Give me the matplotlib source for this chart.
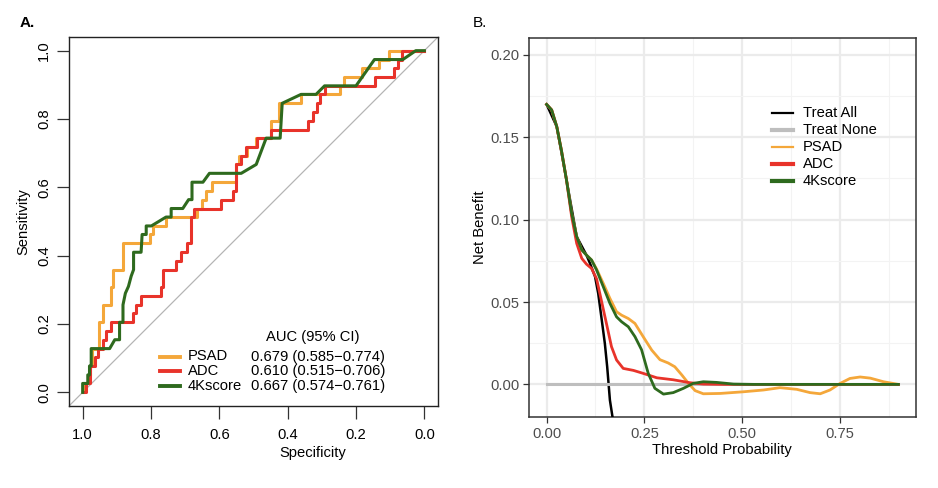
import matplotlib
matplotlib.use("Agg")
import matplotlib.pyplot as plt
from matplotlib.lines import Line2D
import numpy as np

plt.rcParams['font.family'] = ['Liberation Sans', 'DejaVu Sans']

# ---------------- Panel A: ROC data ----------------
psad_spec = [1.000, 1.000, 0.985, 0.979, 0.973, 0.952, 0.941, 0.916, 0.911, 0.882, 0.804, 0.794,
             0.756, 0.664, 0.652, 0.638, 0.621, 0.552, 0.542, 0.518, 0.492, 0.449, 0.424, 0.360,
             0.246, 0.236, 0.182, 0.134, 0.102, 0.000]
psad_sens = [0.000, 0.026, 0.051, 0.077, 0.128, 0.205, 0.256, 0.308, 0.359, 0.436, 0.462, 0.487,
             0.513, 0.538, 0.564, 0.590, 0.615, 0.667, 0.692, 0.718, 0.744, 0.795, 0.846, 0.872,
             0.897, 0.923, 0.949, 0.974, 1.000, 1.000]

adc_spec = [1.000, 0.990, 0.980, 0.965, 0.955, 0.940, 0.931, 0.916, 0.853, 0.843, 0.829, 0.772,
            0.765, 0.726, 0.711, 0.696, 0.682, 0.673, 0.595, 0.560, 0.551, 0.536, 0.522, 0.490,
            0.449, 0.341, 0.325, 0.315, 0.305, 0.292, 0.143, 0.088, 0.078, 0.064, 0.000]
adc_sens = [0.000, 0.026, 0.077, 0.103, 0.128, 0.154, 0.179, 0.205, 0.231, 0.256, 0.282, 0.308,
            0.359, 0.385, 0.410, 0.436, 0.513, 0.538, 0.564, 0.590, 0.667, 0.692, 0.718, 0.744,
            0.769, 0.795, 0.821, 0.846, 0.872, 0.897, 0.923, 0.949, 0.974, 1.000, 1.000]

k4_spec = [1.000, 1.000, 0.985, 0.985, 0.980, 0.980, 0.975, 0.975, 0.921, 0.906, 0.892, 0.892,
           0.882, 0.882, 0.875, 0.866, 0.858, 0.851, 0.851, 0.829, 0.826, 0.814, 0.814, 0.799,
           0.756, 0.741, 0.741, 0.707, 0.690, 0.680, 0.680, 0.648, 0.629, 0.536, 0.492, 0.463,
           0.422, 0.416, 0.361, 0.317, 0.292, 0.200, 0.146, 0.063, 0.025, 0.000]
k4_sens = [0.000, 0.026, 0.026, 0.051, 0.051, 0.077, 0.077, 0.128, 0.128, 0.154, 0.154, 0.205,
           0.205, 0.256, 0.290, 0.310, 0.340, 0.359, 0.410, 0.410, 0.462, 0.462, 0.487, 0.487,
           0.513, 0.513, 0.538, 0.538, 0.564, 0.564, 0.615, 0.615, 0.641, 0.641, 0.667, 0.744,
           0.744, 0.846, 0.872, 0.872, 0.897, 0.897, 0.974, 0.974, 1.000, 1.000]

roc_names = ["PSAD", "ADC", "4Kscore"]
roc_auc = ["0.679 (0.585\u22120.774)", "0.610 (0.515\u22120.706)", "0.667 (0.574\u22120.761)"]
roc_ticks = [1.0, 0.8, 0.6, 0.4, 0.2, 0.0]
roc_ticklabels = ["1.0", "0.8", "0.6", "0.4", "0.2", "0.0"]

# ---------------- Panel B: decision curve data ----------------
all_t = [0.000, 0.026, 0.051, 0.077, 0.102, 0.111, 0.124, 0.132, 0.141, 0.149, 0.155, 0.162, 0.172]
all_nb = [0.170, 0.1565, 0.124, 0.0897, 0.0785, 0.0735, 0.0654, 0.0553, 0.0393, 0.0249, 0.0107, -0.0096, -0.025]

none_t = [0.0, 0.9]
none_nb = [0.0, 0.0]

psad_t = [0.000, 0.013, 0.026, 0.038, 0.051, 0.064, 0.077, 0.090, 0.102, 0.115, 0.128, 0.145, 0.162,
          0.179, 0.192, 0.209, 0.226, 0.247, 0.269, 0.290, 0.311, 0.328, 0.346, 0.363, 0.380, 0.401,
          0.444, 0.503, 0.555, 0.597, 0.640, 0.674, 0.700, 0.725, 0.751, 0.776, 0.802, 0.828, 0.862, 0.900]
psad_nb = [0.170, 0.1666, 0.1565, 0.142, 0.124, 0.104, 0.0897, 0.0816, 0.0785, 0.0755, 0.0700, 0.0613, 0.0522,
           0.0441, 0.042, 0.040, 0.037, 0.029, 0.0208, 0.0150, 0.0130, 0.0107, 0.0057, 0.0006, -0.0038, -0.0057,
           -0.0055, -0.0045, -0.0034, -0.0020, -0.0030, -0.0050, -0.0057, -0.0034, 0.0006, 0.0036, 0.0045, 0.0038, 0.0016, 0.0]

adc_t = [0.000, 0.013, 0.026, 0.038, 0.051, 0.064, 0.077, 0.090, 0.102, 0.115, 0.128, 0.141, 0.154,
         0.166, 0.179, 0.196, 0.222, 0.247, 0.282, 0.324, 0.367, 0.401, 0.452, 0.900]
adc_nb = [0.170, 0.1666, 0.1565, 0.142, 0.124, 0.102, 0.0856, 0.0765, 0.0730, 0.0704, 0.0640, 0.0500, 0.0360,
          0.0229, 0.0148, 0.0097, 0.0085, 0.0067, 0.0040, 0.0028, 0.0010, 0.0002, 0.0, 0.0]

k4_t = [0.000, 0.013, 0.026, 0.038, 0.051, 0.064, 0.077, 0.090, 0.102, 0.115, 0.128, 0.145, 0.162,
        0.179, 0.192, 0.209, 0.226, 0.243, 0.260, 0.277, 0.299, 0.324, 0.350, 0.375, 0.401, 0.435,
        0.478, 0.529, 0.900]
k4_nb = [0.170, 0.1666, 0.1565, 0.142, 0.124, 0.104, 0.0897, 0.0816, 0.0785, 0.0755, 0.0694, 0.0593, 0.0492,
         0.0410, 0.0380, 0.0350, 0.0290, 0.0210, 0.0067, -0.0024, -0.0059, -0.0050, -0.0024, 0.0006, 0.0016,
         0.0012, 0.0002, 0.0, 0.0]

dca_names = ["Treat All", "Treat None", "PSAD", "ADC", "4Kscore"]
dca_xticks = [0.00, 0.25, 0.50, 0.75]
dca_yticks = [0.00, 0.05, 0.10, 0.15, 0.20]

# ---------------- styling ----------------
C_PSAD = "#F4A73A"
C_ADC = "#E8332A"
C_K4 = "#2E6A1E"
C_ALL = "#000000"
C_NONE = "#BEBEBE"

W, H = 938, 488
fig = plt.figure(figsize=(W / 100, H / 100), dpi=100)


def fx(x):
    return x / W


def fy(y):
    return 1 - y / H


FS = 10.6

# ---------------- Panel A ----------------
ax1 = fig.add_axes([fx(69), fy(406), 369 / W, 369 / H])
ax1.set_xlim(1.04, -0.04)
ax1.set_ylim(-0.04, 1.04)
ax1.axline((1, 0), (0, 1), color="#B5B5B5", lw=0.9, zorder=1)
ax1.step(psad_spec, psad_sens, where="post", color=C_PSAD, lw=2.2, zorder=3)
ax1.step(adc_spec, adc_sens, where="post", color=C_ADC, lw=2.2, zorder=4)
ax1.plot(k4_spec, k4_sens, color=C_K4, lw=2.2, zorder=5)
for s in ax1.spines.values():
    s.set_linewidth(1.0)
    s.set_color("#222222")
ax1.set_xticks(roc_ticks)
ax1.set_xticklabels(roc_ticklabels, fontsize=FS)
ax1.set_yticks(roc_ticks)
ax1.set_yticklabels(roc_ticklabels, fontsize=FS, rotation=90, va="center")
ax1.tick_params(axis="x", direction="out", length=9, width=0.9, pad=6.5, color="#333333")
ax1.tick_params(axis="y", direction="out", length=9, width=0.9, pad=4, color="#333333")
fig.text(fx(313), fy(453), "Specificity", fontsize=FS, ha="center", va="center")
fig.text(fx(23), fy(222), "Sensitivity", fontsize=FS, ha="center", va="center", rotation=90)
fig.text(fx(20), fy(23), "A.", fontsize=11, fontweight="bold", ha="left", va="center")

# legend of panel A
fig.text(fx(313), fy(337), "AUC (95% CI)", fontsize=FS, ha="center", va="center")
roc_cols = [C_PSAD, C_ADC, C_K4]
rows_a = [356.5, 371.3, 386]
for name, auc, col, yy in zip(roc_names, roc_auc, roc_cols, rows_a):
    fig.add_artist(Line2D([fx(160), fx(180)], [fy(yy), fy(yy)], color=col, lw=2.8,
                          transform=fig.transFigure))
    fig.text(fx(188), fy(yy), name, fontsize=FS, ha="left", va="center")
    fig.text(fx(251), fy(yy), auc, fontsize=FS, ha="left", va="center")

# ---------------- Panel B ----------------
ax2 = fig.add_axes([fx(529), fy(417), 387 / W, 379 / H])
ax2.set_xlim(-0.045, 0.945)
ax2.set_ylim(-0.0198, 0.2103)
ax2.set_xticks(dca_xticks)
ax2.set_xticklabels([f"{v:.2f}" for v in dca_xticks], fontsize=FS, color="#4D4D4D")
ax2.set_yticks(dca_yticks)
ax2.set_yticklabels([f"{v:.2f}" for v in dca_yticks], fontsize=FS, color="#4D4D4D")
ax2.set_xticks([0.125, 0.375, 0.625, 0.875], minor=True)
ax2.set_yticks([0.025, 0.075, 0.125, 0.175], minor=True)
ax2.grid(which="major", color="#EBEBEB", lw=1.6)
ax2.grid(which="minor", color="#F3F3F3", lw=0.8)
ax2.set_axisbelow(True)
ax2.tick_params(which="major", direction="out", length=4.5, width=0.9, pad=2.5, color="#333333")
ax2.tick_params(which="minor", length=0)
for s in ax2.spines.values():
    s.set_linewidth(1.1)
    s.set_color("#333333")

ax2.plot(all_t, all_nb, color=C_ALL, lw=1.8, zorder=3, solid_capstyle="butt")
ax2.plot(none_t, none_nb, color=C_NONE, lw=2.2, zorder=3)
ax2.plot(psad_t, psad_nb, color=C_PSAD, lw=2.0, zorder=4)
ax2.plot(adc_t, adc_nb, color=C_ADC, lw=2.0, zorder=5)
ax2.plot(k4_t, k4_nb, color=C_K4, lw=2.0, zorder=6)

fig.text(fx(722), fy(450), "Threshold Probability", fontsize=FS, ha="center", va="center")
fig.text(fx(480), fy(227), "Net Benefit", fontsize=FS, ha="center", va="center", rotation=90)
fig.text(fx(473), fy(23), "B.", fontsize=11, ha="left", va="center")

dca_cols = [C_ALL, C_NONE, C_PSAD, C_ADC, C_K4]
dca_lw = [1.6, 3.0, 1.6, 3.0, 3.0]
rows_b = [113, 130, 147, 164, 181]
for name, col, lw, yy in zip(dca_names, dca_cols, dca_lw, rows_b):
    fig.add_artist(Line2D([fx(772), fx(793)], [fy(yy), fy(yy)], color=col, lw=lw,
                          transform=fig.transFigure))
    fig.text(fx(803), fy(yy), name, fontsize=FS, ha="left", va="center")

fig.savefig("out.png", dpi=100)
